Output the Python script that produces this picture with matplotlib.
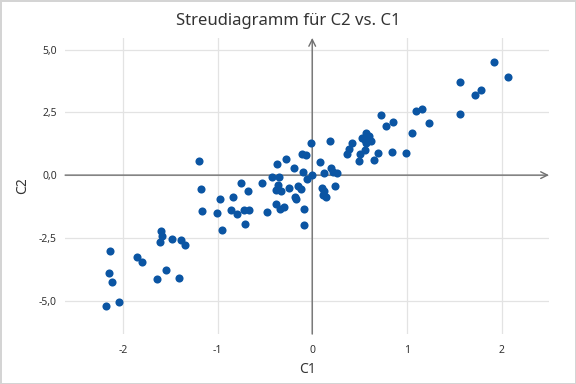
import matplotlib
matplotlib.use("Agg")
import matplotlib.pyplot as plt

plt.rcParams['font.family'] = ['Noto Sans', 'DejaVu Sans']
plt.rcParams['axes.unicode_minus'] = False

# Data
c1 = [-2.135, -2.146, -2.11, -2.18, -2.04,
      -1.853, -1.797, -1.597, -1.586, -1.61, -1.48, -1.385, -1.343, -1.544, -1.639, -1.41,
      -1.195, -1.174, -1.163, -0.973, -1.005, -0.952, -0.836, -0.857, -0.794, -0.752,
      -0.678, -0.723, -0.667, -0.709,
      -0.53, -0.473, -0.424, -0.354, -0.372, -0.277, -0.361, -0.378, -0.333, -0.245,
      -0.378, -0.343, -0.298, -0.192, -0.182, -0.174,
      -0.111, -0.061, -0.016, -0.097, -0.15, -0.121, -0.055, 0.0, -0.087, -0.087,
      0.188, 0.082, 0.125, 0.199, 0.22, 0.262, 0.241, 0.103, 0.125, 0.114, 0.146,
      0.368, 0.389, 0.424, 0.509, 0.491, 0.557, 0.565, 0.53, 0.6, 0.554, 0.625, 0.572,
      0.649, 0.695, 0.723, 0.783, 0.853, 0.843, 0.987, 1.054, 1.10, 1.16, 1.233,
      1.924, 2.068, 1.561, 1.783, 1.719, 1.561]
c2 = [-3.03, -3.88, -4.27, -5.23, -5.07,
      -3.28, -3.44, -2.23, -2.43, -2.68, -2.56, -2.60, -2.80, -3.78, -4.12, -4.08,
      0.55, -0.56, -1.42, -0.97, -1.49, -2.2, -0.88, -1.37, -1.53, -0.33,
      -0.65, -1.37, -1.37, -1.93,
      -0.32, -1.47, -0.07, -0.07, 0.44, 0.64, -0.40, -0.60, -0.64, -0.53,
      -1.13, -1.33, -1.26, 0.28, -0.86, -0.97,
      0.85, 0.82, 1.26, 0.12, -0.44, -0.57, -0.17, 0.0, -1.33, -2.0,
      1.35, 0.51, 0.09, 0.29, 0.12, 0.07, -0.45, -0.53, -0.65, -0.78, -0.89,
      0.86, 1.05, 1.29, 0.84, 0.56, 1.02, 1.66, 1.46, 1.55, 1.39, 1.37, 1.26,
      0.6, 0.9, 2.38, 1.96, 2.10, 0.92, 0.88, 1.66, 2.56, 2.63, 2.06,
      4.49, 3.89, 3.69, 3.37, 3.18, 2.43]

xticks = [-2, -1, 0, 1, 2]
yticks = [-5.0, -2.5, 0.0, 2.5, 5.0]
ytick_labels = ['-5,0', '-2,5', '0,0', '2,5', '5,0']

fig = plt.figure(figsize=(5.76, 3.84), dpi=100)
fig.patch.set_edgecolor('#d4d4d4')
fig.patch.set_linewidth(2)
ax = fig.add_axes([0.113, 0.130, 0.840, 0.771])

xmin, xmax = -2.61, 2.50
ymin, ymax = -6.33, 5.46
ax.set_xlim(xmin, xmax)
ax.set_ylim(ymin, ymax)

for s in ax.spines.values():
    s.set_visible(False)

ax.set_xticks(xticks)
ax.set_yticks(yticks)
ax.set_yticklabels(ytick_labels)
ax.grid(True, color='#e3e3e3', linewidth=0.9)
ax.set_axisbelow(True)
ax.tick_params(axis='x', length=0, labelsize=7.5, colors='#333333', pad=8)
ax.tick_params(axis='y', length=0, labelsize=7.5, colors='#333333', pad=6)

# axis lines through the origin with arrow heads
axis_col = '#707070'
ax.annotate('', xy=(xmax, 0), xytext=(xmin, 0),
            arrowprops=dict(arrowstyle='->', color=axis_col, lw=1.0,
                            shrinkA=0, shrinkB=0, mutation_scale=12))
ax.annotate('', xy=(0, ymax), xytext=(0, ymin),
            arrowprops=dict(arrowstyle='->', color=axis_col, lw=1.0,
                            shrinkA=0, shrinkB=0, mutation_scale=12))

ax.scatter(c1, c2, s=34, color='#0b55a3', zorder=3, linewidths=0)

ax.set_xlabel('C1', fontsize=10, color='#333333', labelpad=4)
ax.set_ylabel('C2', fontsize=10, color='#333333', labelpad=6)
fig.text(0.5, 0.945, 'Streudiagramm für C2 vs. C1', ha='center', va='center',
         fontsize=12, color='#333333', fontweight='medium')

fig.savefig('out.png', dpi=100)
